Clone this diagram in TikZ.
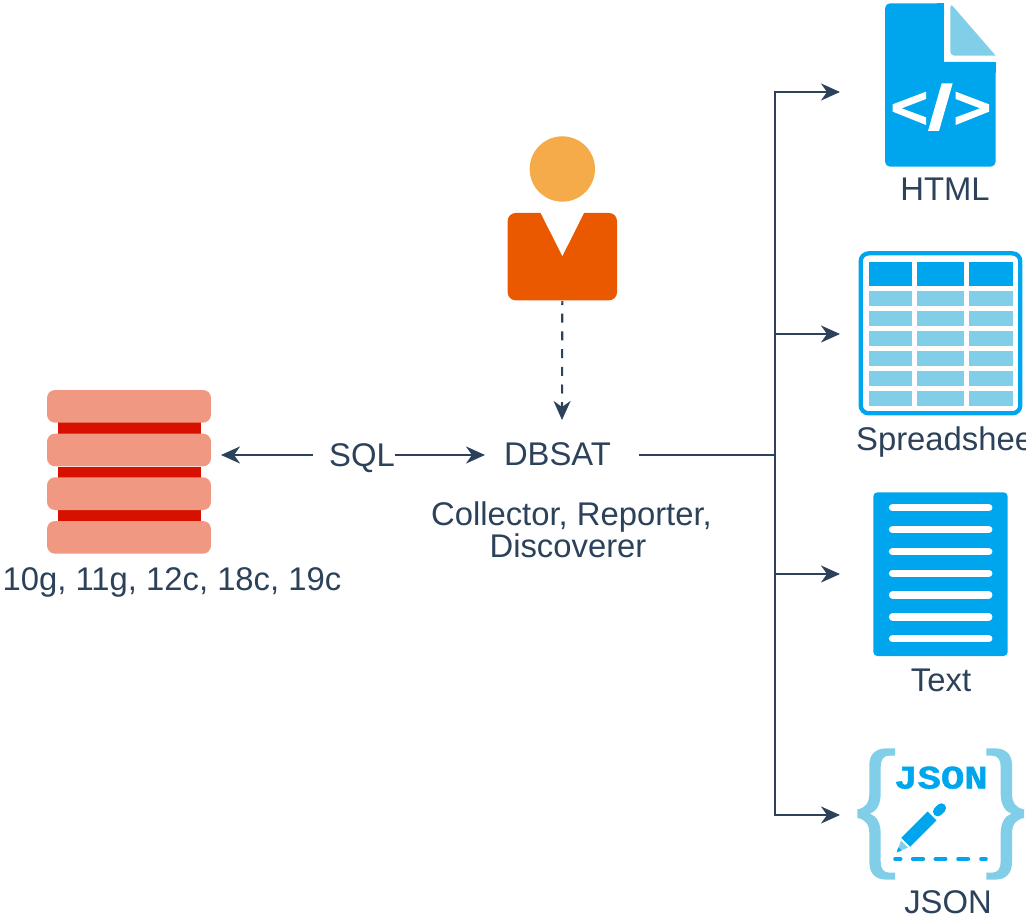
\documentclass[tikz,border=0pt]{standalone}
\usepackage{fontspec}
\setmainfont{Liberation Sans}
\newfontfamily\slabfont[BoldFeatures={FakeBold=1.2}]{Liberation Mono}
\usetikzlibrary{arrows.meta}
\definecolor{ink}{HTML}{2C415A}
\definecolor{sky}{HTML}{00A6ED}
\definecolor{pale}{HTML}{81CEE9}
\definecolor{salmon}{HTML}{F09882}
\definecolor{dbred}{HTML}{D71000}
\definecolor{skin}{HTML}{F5AB4A}
\definecolor{suit}{HTML}{EA5800}
\tikzset{
  lbl/.style={text=ink,font=\fontsize{32.8}{33}\selectfont,inner sep=0pt,anchor=base},
  slot/.style={inner sep=0pt,outer sep=0pt,minimum width=#1},
  conn/.style={draw=ink,line width=2.1pt,-{Stealth[length=19pt,width=17pt,inset=6pt]}},
  plain/.style={draw=ink,line width=2.1pt},
  zoomed/.style={shift={#1},scale=1/3},
}
\begin{document}
\begin{tikzpicture}[x=1pt,y=-1pt]
\useasboundingbox (0,0) rectangle (1028,917);

% database
\begin{scope}[zoomed={(30,380)}]
  \fill[dbred] (84,125) rectangle (513,165);
  \fill[dbred] (84,261) rectangle (513,296);
  \fill[dbred] (84,388) rectangle (513,426);
  \foreach \t/\b in {30/128,161/259,292/390,423/521}
    \fill[salmon,rounded corners=8pt] (51,\t) rectangle (543,\b);
\end{scope}
\node[lbl] (dblabel) at (172,590) {10g, 11g, 12c, 18c, 19c};
\node[slot=174pt,minimum height=164pt] (db) at (134,455) {};

% person
\begin{scope}[zoomed={(490,125)}]
  \fill[skin] (217,132) circle (98);
  \fill[suit,rounded corners=8pt] (53,264) rectangle (381,526);
  \fill[white] (147,254) -- (217,393) -- (287,254) -- cycle;
\end{scope}
\node[slot=110pt,minimum height=88pt] (person) at (562.3,257) {};

% central labels
\node[slot=82pt,minimum height=30pt] (sql) at (354,455) {};
\node[lbl] (sqltext) at (362,466) {SQL};
\node[slot=154pt,minimum height=70pt] (dbsat) at (562,455) {};
\node[lbl] (dbsattext) at (557.5,465) {DBSAT};
\node[lbl] (rolesone) at (571.5,525) {Collector, Reporter,};
\node[lbl] (rolestwo) at (568,557) {Discoverer};

% HTML icon
\begin{scope}[zoomed={(840,0)}]
  \fill[sky,rounded corners=5pt] (135,10) rectangle (312,60);
  \fill[sky,rounded corners=5pt] (135,186) rectangle (467,500);
  \fill[sky] (135,30) rectangle (312,200);
  \fill[sky] (290,10) rectangle (312,40);
  \fill[sky] (440,186) rectangle (467,220);
  \fill[pale,rounded corners=4pt] (331,10) [sharp corners] -- (467,167) [rounded corners=4pt] -- (331,167) -- cycle;
  \fill[white] (258,275) -- (158,313) -- (158,335) -- (258,375) -- (258,352) -- (185,325) -- (258,297) -- cycle;
  \fill[white] (305,250) -- (338,250) -- (297,393) -- (264,393) -- cycle;
  \fill[white] (347,275) -- (447,313) -- (447,335) -- (347,375) -- (347,352) -- (420,325) -- (347,297) -- cycle;
\end{scope}
\node[lbl] (htmllabel) at (945,201) {HTML};

% spreadsheet icon
\begin{scope}[zoomed={(840,240)}]
  \draw[sky,line width=4.3pt,rounded corners=8pt] (62,40) rectangle (541,520);
  \foreach \l/\r in {87/216,231/372,387/519}{
    \fill[sky] (\l,66) rectangle (\r,138);
    \foreach \t in {153,213,273,333,393,453}
      \fill[pale] (\l,\t) rectangle (\r,\t+45);
  }
\end{scope}
\begin{scope}
  \clip (850,420) rectangle (1025,465);
  \node[lbl,anchor=base west] (sheetlabel) at (856,450) {Spreadsheet};
\end{scope}

% text icon
\begin{scope}[zoomed={(860,485)}]
  \fill[sky,rounded corners=4pt] (40,22) rectangle (443,513);
  \foreach \y in {68,134,200,265,330,396,461}
    \draw[white,line width=7.6pt,line cap=round] (98,\y) -- (386,\y);
\end{scope}
\node[lbl] (textlabel) at (941,691) {Text};

% JSON icon
\begin{scope}[zoomed={(840,730)}]
  \foreach \m/\o in {1/0,-1/604}{
    \begin{scope}[shift={(\o,0)},xscale=\m]
      \fill[pale] (165,55) -- (140,55) .. controls (105,55) and (88,75) .. (88,105) -- (88,190) .. controls (88,220) and (75,234) .. (52,238) -- (52,264) .. controls (75,268) and (88,282) .. (88,310) -- (88,395) .. controls (88,430) and (105,449) .. (140,449) -- (165,449) -- (165,428) -- (148,428) .. controls (130,428) and (122,415) .. (122,395) -- (122,310) .. controls (122,280) and (110,258) .. (90,251) .. controls (110,244) and (122,222) .. (122,190) -- (122,110) .. controls (122,90) and (130,77) .. (148,77) -- (165,77) -- cycle;
    \end{scope}
  }
  \node[text=sky,inner sep=0pt,font=\slabfont\bfseries\fontsize{33}{33}\selectfont,xscale=1.18] (jsonmark) at (303,143) {JSON};
  \draw[sky,line width=12.5pt] (197,337) -- (276,258);
  \draw[sky,line width=9.5pt,line cap=round] (293,245) -- (304,234);
  \fill[pale] (171,365) -- (183,332) -- (204,353) -- cycle;
  \fill[sky] (170,367) -- (175,352) -- (185,362) -- cycle;
  \foreach \a/\b in {166/181,219/249,287/316,355/384,424/437}
    \draw[sky,line width=4.3pt,line cap=round] (\a,387) -- (\b,387);
\end{scope}
\node[lbl] (jsonlabel) at (948,913) {JSON};

% connector ends
\coordinate (junction) at (775,455);
\coordinate (tohtml) at (840,92);
\coordinate (tosheet) at (840,334);
\coordinate (totext) at (840,574);
\coordinate (tojson) at (840,815);

% connectors
\draw[conn] (sql.west) -- (db.east);
\draw[conn] (sql.east) -- (dbsat.west);
\draw[conn,dash pattern=on 9pt off 8.7pt,dash phase=5pt] (person.south) -- (dbsat.north);
\draw[plain] (dbsat.east) -- (junction);
\draw[conn] (junction) |- (tohtml);
\draw[conn] (junction) |- (tosheet);
\draw[conn] (junction) |- (totext);
\draw[conn] (junction) |- (tojson);
\end{tikzpicture}
\end{document}
